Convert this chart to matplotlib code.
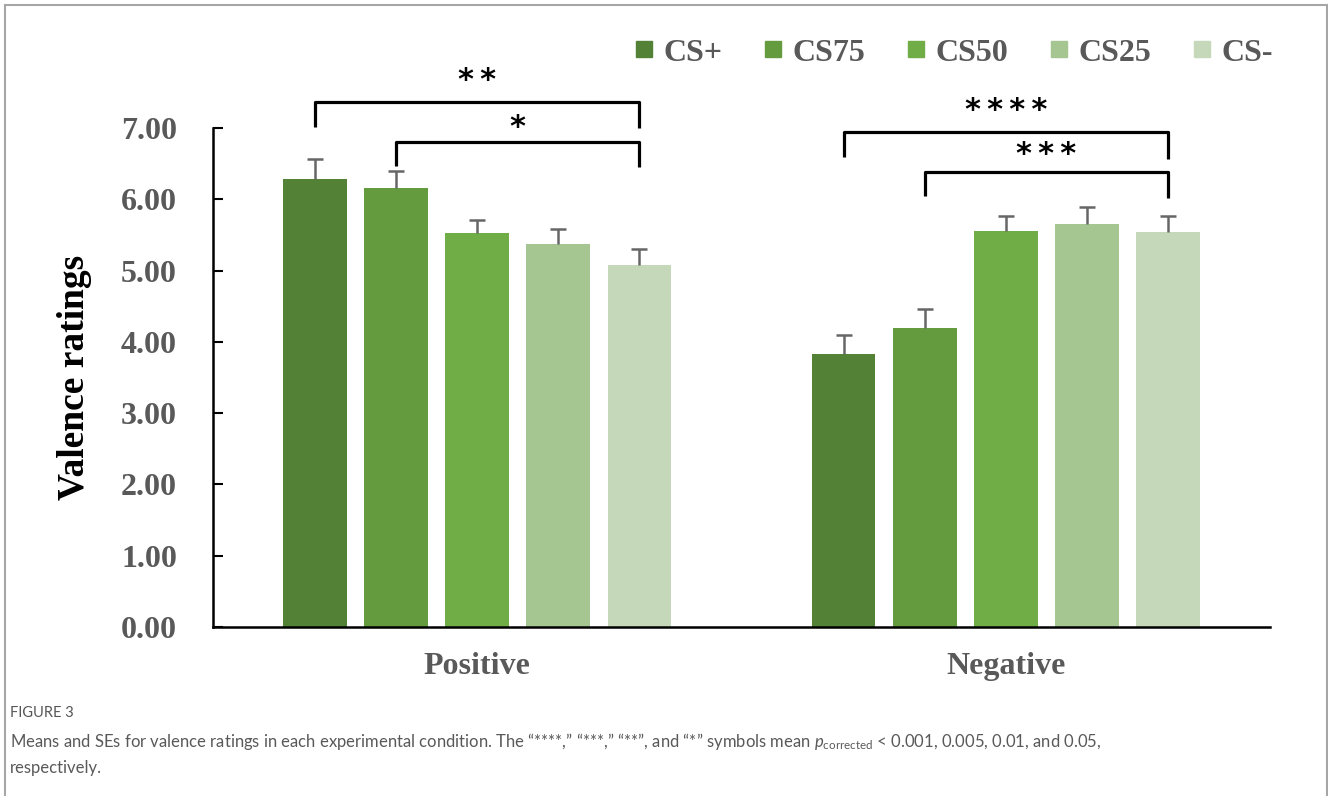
import matplotlib.pyplot as plt
import numpy as np
from matplotlib.lines import Line2D

plt.rcParams['mathtext.fontset'] = 'custom'
plt.rcParams['mathtext.rm'] = 'Lato'
plt.rcParams['mathtext.it'] = 'Lato:italic'

groups = ['Positive', 'Negative']
conditions = ['CS+', 'CS75', 'CS50', 'CS25', 'CS-']
colors = ['#538135', '#649B3F', '#70AD47', '#A5C591', '#C5D9BA']

means_positive = [6.28, 6.16, 5.53, 5.37, 5.08]
se_positive = [0.28, 0.24, 0.18, 0.22, 0.22]
means_negative = [3.83, 4.19, 5.55, 5.65, 5.54]
se_negative = [0.27, 0.27, 0.21, 0.24, 0.22]

# brackets: group, first bar, last bar, line height, left end, right end, label height, label
brackets = [
    (0, 0, 4, 7.36, 7.01, 7.00, 7.66, '**'),
    (0, 1, 4, 6.80, 6.47, 6.45, 7.00, '*'),
    (1, 0, 4, 6.94, 6.59, 6.57, 7.25, '****'),
    (1, 1, 4, 6.38, 6.04, 6.02, 6.63, '***'),
]

serif = 'Liberation Serif'
grey_text = '#595959'

fig = plt.figure(figsize=(13.28, 7.96), dpi=100)
ax = fig.add_axes([213 / 1328, 1 - 627 / 796, 1057 / 1328, 499 / 796])

step = 0.1535
width = 0.121
x = np.arange(len(groups))
means = [means_positive, means_negative]
ses = [se_positive, se_negative]

for i, cond in enumerate(conditions):
    pos = x + (i - 2) * step
    vals = np.array([means[0][i], means[1][i]])
    errs = np.array([ses[0][i], ses[1][i]])
    ax.bar(pos, vals, width, color=colors[i], label=cond, zorder=2)
    # plus-only error bars
    ax.vlines(pos, vals, vals + errs, color='#666666', lw=1.8, zorder=3)
    ax.plot(pos, vals + errs, ls='', marker='_', markersize=11, markeredgewidth=1.8,
            color='#666666', zorder=3)

for g, a, b, y, ya, yb, ty, label in brackets:
    xa = g + (a - 2) * step
    xb = g + (b - 2) * step
    ax.plot([xa, xa, xb, xb], [ya, y, y, yb], color='black', lw=2.3,
            solid_joinstyle='round', solid_capstyle='butt', clip_on=False, zorder=4)
    ax.text((xa + xb) / 2, ty, '\u2009'.join(label), ha='center', va='center', fontsize=22,
            fontfamily='DejaVu Sans', fontweight='bold', color='black')

ax.set_xlim(-0.5, 1.5)
ax.set_ylim(0, 7)
ax.set_yticks(np.arange(0, 8, 1))
ax.set_yticklabels(['%.2f' % v for v in np.arange(0, 8, 1)])
ax.set_xticks(x)
ax.set_xticklabels(groups)

for s in ['top', 'right']:
    ax.spines[s].set_visible(False)
for s in ['left', 'bottom']:
    ax.spines[s].set_linewidth(1.8)

ax.tick_params(axis='y', direction='in', length=7, width=1.5, pad=26)
ax.tick_params(axis='x', length=0, pad=18)
for lab in ax.get_yticklabels() + ax.get_xticklabels():
    lab.set_fontfamily(serif)
    lab.set_fontweight('bold')
    lab.set_fontsize(23)
    lab.set_color(grey_text)

fig.text(75 / 1328, 1 - 377 / 796, 'Valence ratings', rotation=90, ha='center', va='center',
         fontsize=27, fontfamily=serif, fontweight='bold', color='black')

handles = [Line2D([], [], marker='s', ls='', color=c, markersize=11.5) for c in colors]
leg = fig.legend(handles, conditions, loc='center left', bbox_to_anchor=(0.479, 1 - 53 / 796),
                 ncol=5, frameon=False, handlelength=0.5, handletextpad=0.35,
                 columnspacing=1.35, borderaxespad=0, borderpad=0,
                 prop={'family': serif, 'weight': 'bold', 'size': 23})
for t in leg.get_texts():
    t.set_color(grey_text)

# caption
fig.text(10 / 1328, 1 - 713 / 796, 'FIGURE 3', ha='left', va='center', fontsize=10.5,
         fontfamily='Lato', color='#555555')
fig.text(10 / 1328, 1 - 741 / 796,
         'Means and SEs for valence ratings in each experimental condition. The \u201c****,\u201d \u201c***,\u201d '
         '\u201c**\u201d, and \u201c*\u201d symbols mean $p_{\\mathrm{corrected}}$ < 0.001, 0.005, 0.01, and 0.05,',
         ha='left', va='center', fontsize=12, fontfamily='Lato', color=grey_text)
fig.text(10 / 1328, 1 - 768 / 796, 'respectively.', ha='left', va='center', fontsize=12,
         fontfamily='Lato', color=grey_text)

# frame around the figure panel, open at the bottom
border = '#a6a6a6'
fig.add_artist(Line2D([4.5 / 1328, 4.5 / 1328], [0, 1 - 5 / 796], color=border, lw=1.5, transform=fig.transFigure))
fig.add_artist(Line2D([4.5 / 1328, 1326.5 / 1328], [1 - 5 / 796, 1 - 5 / 796], color=border, lw=1.5, transform=fig.transFigure))
fig.add_artist(Line2D([1326.5 / 1328, 1326.5 / 1328], [0, 1 - 5 / 796], color=border, lw=1.5, transform=fig.transFigure))

fig.savefig('out.png', dpi=100)
